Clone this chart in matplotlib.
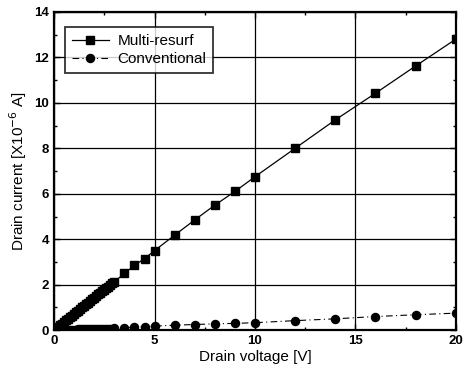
import matplotlib
matplotlib.use("Agg")
import matplotlib.pyplot as plt
from matplotlib.ticker import MultipleLocator

plt.rcParams["font.family"] = ["Liberation Sans", "DejaVu Sans"]

# drain voltage [V]
v_dense = [0.0, 0.1, 0.2, 0.3, 0.4, 0.5, 0.6, 0.7, 0.8, 0.9, 1.0,
           1.1, 1.2, 1.3, 1.4, 1.5, 1.6, 1.7, 1.8, 1.9, 2.0,
           2.1, 2.2, 2.3, 2.4, 2.5, 2.6, 2.7, 2.8, 2.9, 3.0]
v_sparse = [3.5, 4.0, 4.5, 5.0, 6.0, 7.0, 8.0, 9.0, 10.0, 12.0, 14.0, 16.0, 18.0, 20.0]
voltage = v_dense + v_sparse

# drain current [x1e-6 A]
multi_resurf = [0.0, 0.07, 0.14, 0.21, 0.28, 0.36, 0.43, 0.50, 0.57, 0.64, 0.72,
                0.79, 0.86, 0.93, 1.00, 1.07, 1.14, 1.21, 1.28, 1.35, 1.43,
                1.50, 1.57, 1.64, 1.71, 1.78, 1.85, 1.92, 1.99, 2.06, 2.13,
                2.50, 2.85, 3.15, 3.50, 4.18, 4.85, 5.50, 6.10, 6.75, 8.00, 9.25, 10.42, 11.62, 12.80]
conventional = [0.0, 0.0, 0.01, 0.01, 0.01, 0.02, 0.02, 0.02, 0.03, 0.03, 0.03,
                0.03, 0.04, 0.04, 0.04, 0.04, 0.05, 0.05, 0.05, 0.05, 0.05,
                0.06, 0.06, 0.06, 0.06, 0.06, 0.07, 0.07, 0.07, 0.07, 0.08,
                0.11, 0.14, 0.16, 0.18, 0.22, 0.25, 0.28, 0.30, 0.33, 0.42, 0.50, 0.60, 0.68, 0.75]

fig = plt.figure(figsize=(4.67, 3.71), dpi=100)
ax = fig.add_axes([0.116, 0.110, 0.860, 0.858])

ax.plot(voltage, multi_resurf, color="black", lw=0.9, marker="s", ms=5.8,
        linestyle="-", label="Multi-resurf")
ax.plot(voltage, conventional, color="black", lw=0.8, marker="o", ms=5.8,
        linestyle=(0, (6, 3, 1, 3)), label="Conventional")

ax.set_xlim(0, 20)
ax.set_ylim(0, 14)
ax.xaxis.set_major_locator(MultipleLocator(5))
ax.xaxis.set_minor_locator(MultipleLocator(2.5))
ax.yaxis.set_major_locator(MultipleLocator(2))
ax.yaxis.set_minor_locator(MultipleLocator(1))
ax.tick_params(which="both", direction="in", top=True, right=True)
ax.tick_params(which="major", length=4, width=1)
ax.tick_params(which="minor", length=2.5, width=1)
ax.grid(True, which="major", color="black", lw=0.9)
for s in ax.spines.values():
    s.set_linewidth(1.6)

for lab in ax.get_xticklabels() + ax.get_yticklabels():
    lab.set_fontweight("bold")
    lab.set_fontsize(9.5)

ax.set_xlabel("Drain voltage [V]", fontsize=11, labelpad=2)
ax.set_ylabel("Drain current [X10$^{-6}$ A]", fontsize=11, labelpad=4)

leg = ax.legend(loc="upper left", fontsize=11, frameon=True, fancybox=False,
                edgecolor="black", handlelength=2.4, borderpad=0.45,
                labelspacing=0.25, handletextpad=0.6,
                bbox_to_anchor=(0.008, 0.975))
leg.get_frame().set_linewidth(1.3)

fig.savefig("out.png", dpi=100)
